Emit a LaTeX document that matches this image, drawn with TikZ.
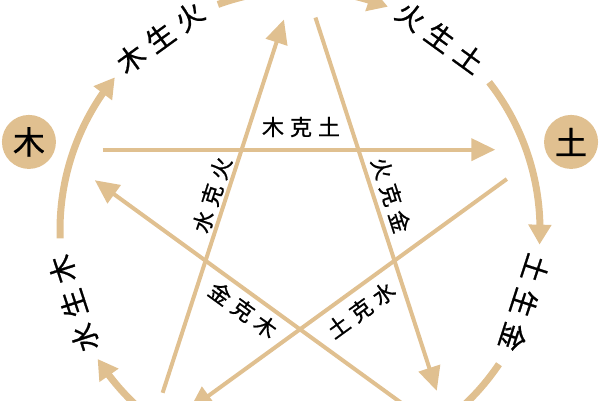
\documentclass[tikz,border=0pt]{standalone}
\usepackage{fontspec}
\setmainfont{Noto Sans CJK SC}
\newfontfamily\wxfont{Noto Sans CJK SC}[FakeBold=0.8]
\usetikzlibrary{arrows.meta,bending,calc}
\definecolor{wxtan}{RGB}{224,192,144}
\tikzset{
  ke/.style={draw=wxtan, line width=4pt, shorten <=50pt, shorten >=52pt, -{Triangle[width=22pt,length=24pt]}},
  sheng/.style={draw=wxtan, line width=7pt, -{Triangle[width=22pt,length=20pt,flex]}},
  elem/.style={circle, fill=wxtan, minimum size=54pt, inner sep=0pt, font=\wxfont\fontsize{32}{32}\selectfont},
  arclab/.style={font=\wxfont\fontsize{28}{28}\selectfont, inner sep=0pt},
  kelab/.style={font=\wxfont\fontsize{22}{22}\selectfont, inner sep=0pt},
}
\begin{document}
\begin{tikzpicture}[x=1pt,y=1pt]
\useasboundingbox (0,0) rectangle (600,400);
\clip (0,0) rectangle (600,400);
\coordinate (C) at (300,170);
% pentagram vertices
\coordinate (vHuo) at ($(C)+(90:260pt)$);
\coordinate (vMu) at ($(C)+(162:260pt)$);
\coordinate (vShui) at ($(C)+(234:260pt)$);
\coordinate (vJin) at ($(C)+(306:260pt)$);
\coordinate (vTu) at ($(C)+(18:260pt)$);
% ke cycle
\draw[ke] (vMu) -- (vTu);
\draw[ke] (vTu) -- (vShui);
\draw[ke] (vShui) -- (vHuo);
\draw[ke] (vHuo) -- (vJin);
\draw[ke] (vJin) -- (vMu);
% sheng cycle arcs
\draw[sheng] ($(C)+(182:240pt)$) arc[start angle=182, end angle=140.5, radius=240pt];
\draw[sheng] ($(C)+(110:240pt)$) arc[start angle=110, end angle=68.5, radius=240pt];
\draw[sheng] ($(C)+(38:240pt)$) arc[start angle=38, end angle=-3.5, radius=240pt];
\draw[sheng] ($(C)+(-34:240pt)$) arc[start angle=-34, end angle=-75.5, radius=240pt];
\draw[sheng] ($(C)+(-106:240pt)$) arc[start angle=-106, end angle=-147.5, radius=240pt];
% sheng labels
\node[arclab, rotate=108] (lShuiMu) at ($(C)+(198:238pt)$) {水\hspace{8pt}生\hspace{8pt}木};
\node[arclab, rotate=36] (lMuHuo) at ($(C)+(126:238pt)$) {木\hspace{8pt}生\hspace{8pt}火};
\node[arclab, rotate=-36] (lHuoTu) at ($(C)+(54:238pt)$) {火\hspace{8pt}生\hspace{8pt}土};
\node[arclab, rotate=-108] (lTuJin) at ($(C)+(-18:236pt)$) {土\hspace{8pt}生\hspace{8pt}金};
% ke labels
\node[kelab] (lMuTu) at (301,273) {木\hspace{6pt}克\hspace{6pt}土};
\node[kelab, rotate=72] (lShuiHuo) at (212,205) {水\hspace{6pt}克\hspace{6pt}火};
\node[kelab, rotate=-72] (lHuoJin) at (391,205) {火\hspace{6pt}克\hspace{6pt}金};
\node[kelab, rotate=-36] (lJinMu) at (243,90) {金\hspace{6pt}克\hspace{6pt}木};
\node[kelab, rotate=36] (lTuShui) at (361,90) {土\hspace{6pt}克\hspace{6pt}水};
% element circles
\node[elem] (mu) at ($(C)+(162:285pt)$) {木};
\node[elem] (tu) at ($(C)+(18:285pt)$) {土};
\end{tikzpicture}
\end{document}
